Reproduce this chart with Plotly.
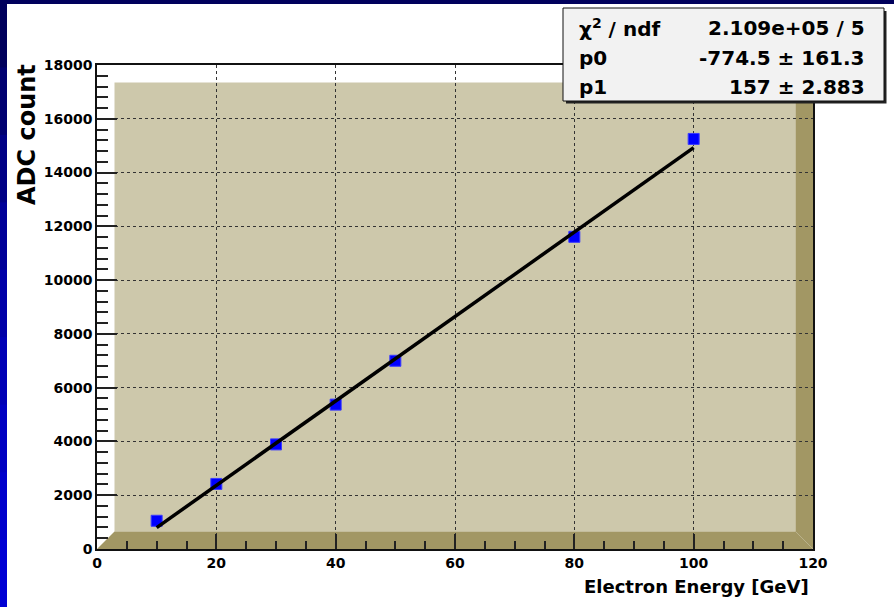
import plotly.graph_objects as go

# Measured calorimeter response vs. beam energy
energy_gev = [10, 20, 30, 40, 50, 80, 100]
adc_count = [1050, 2420, 3890, 5370, 7000, 11610, 15250]

# Linear fit results: ADC = p0 + p1 * E
fit_p0 = -774.5
fit_p0_err = 161.3
fit_p1 = 157.0
fit_p1_err = 2.883
fit_chi2_text = "2.109e+05"
fit_ndf = 5
fit_range = [10, 100]

x_range = [0, 120]
y_range = [0, 18000]

# Canvas geometry (pixels)
W, H = 894, 607
L, R, T, B = 97, 813, 65, 549
PW, PH = R - L, B - T
BORDER = 17.5  # 3D frame bevel width


def px(x):
    return (x - L) / PW


def py(y):
    return (B - y) / PH


FONT = "DejaVu Sans"

fit_x = [fit_range[0], fit_range[1]]
fit_y = [fit_p0 + fit_p1 * e for e in fit_x]

fig = go.Figure()
fig.add_trace(go.Scatter(
    x=energy_gev, y=adc_count, mode="markers",
    marker=dict(symbol="square", size=11, color="#0000ff",
                line=dict(width=1, color="#3a3aff")),
    showlegend=False, hoverinfo="x+y",
))
fig.add_trace(go.Scatter(
    x=fit_x, y=fit_y, mode="lines",
    line=dict(color="black", width=3.5),
    showlegend=False,
))

shapes = []
bx, by = BORDER / PW, BORDER / PH
face = "#cdc8ab"
dark = "#a29764"
# frame front face
shapes.append(dict(type="rect", xref="paper", yref="paper",
                   x0=bx, x1=1 - bx, y0=by, y1=1 - by,
                   fillcolor=face, line=dict(width=0), layer="below"))
# dark bevel: bottom and right sides
shapes.append(dict(type="path", xref="paper", yref="paper",
                   path=f"M 0 0 L 1 0 L {1 - bx} {by} L {bx} {by} Z",
                   fillcolor=dark, line=dict(width=0), layer="below"))
shapes.append(dict(type="path", xref="paper", yref="paper",
                   path=f"M 1 0 L 1 1 L {1 - bx} {1 - by} L {1 - bx} {by} Z",
                   fillcolor=dark, line=dict(width=0), layer="below"))

# slide background strips (left gradient and top band)
strip_cols = ["#00005c", "#000070", "#000085", "#000098", "#0000a8",
              "#0000b6", "#0000c2", "#0000cc", "#0000d4"]
n = len(strip_cols)
for i, c in enumerate(strip_cols):
    shapes.append(dict(type="rect", xref="paper", yref="paper",
                       x0=px(0), x1=px(7),
                       y0=py(H * (i + 1) / n + 1), y1=py(H * i / n),
                       fillcolor=c, line=dict(width=0), layer="above"))
shapes.append(dict(type="rect", xref="paper", yref="paper",
                   x0=px(0), x1=px(W), y0=py(4), y1=py(0),
                   fillcolor="#00005c", line=dict(width=0), layer="above"))

# statistics box with shadow
sx0, sy0, sx1, sy1 = 563, 8, 884, 101
shapes.append(dict(type="rect", xref="paper", yref="paper",
                   x0=px(sx0 + 3), x1=px(sx1 + 2.5), y0=py(sy1 + 2.5), y1=py(sy0 + 3),
                   fillcolor="#222222", line=dict(width=0), layer="above"))
shapes.append(dict(type="rect", xref="paper", yref="paper",
                   x0=px(sx0), x1=px(sx1), y0=py(sy1), y1=py(sy0),
                   fillcolor="#f2f2f2", line=dict(width=1, color="#111111"),
                   layer="above"))

stat_rows = [
    ("χ<sup>2</sup> / ndf", f"{fit_chi2_text} / {fit_ndf}"),
    ("p0", f"{fit_p0:g} ± {fit_p0_err:g}"),
    ("p1", f"{fit_p1:g} ± {fit_p1_err:g}"),
]
row_y = [28, 58, 87]
annotations = []
for (lab, val), yy in zip(stat_rows, row_y):
    annotations.append(dict(text=lab, xref="paper", yref="paper",
                            x=px(577), y=py(yy), xanchor="left", yanchor="middle",
                            showarrow=False,
                            font=dict(family=FONT, size=20, color="black", weight="bold")))
    annotations.append(dict(text=val, xref="paper", yref="paper",
                            x=px(867), y=py(yy), xanchor="right", yanchor="middle",
                            showarrow=False,
                            font=dict(family=FONT, size=20, color="black", weight="bold")))

# axis titles (right/top aligned)
annotations.append(dict(text="Electron Energy [GeV]", xref="paper", yref="paper",
                        x=px(811), y=py(586), xanchor="right", yanchor="middle",
                        showarrow=False,
                        font=dict(family=FONT, size=18, color="black", weight="bold")))
annotations.append(dict(text="ADC count", xref="paper", yref="paper",
                        x=px(27), y=py(135), xanchor="center", yanchor="middle",
                        textangle=-90, showarrow=False,
                        font=dict(family=FONT, size=24, color="black", weight="bold")))

axis_common = dict(
    showline=True, linecolor="#111111", linewidth=1.5, mirror=True,
    ticks="inside", tickcolor="#222222", tickwidth=1.5,
    showgrid=True, gridcolor="#333333", gridwidth=1, griddash="dot",
    zeroline=False, tickformat="d",
    tickfont=dict(family=FONT, size=14, color="black", weight="bold"),
)

fig.update_layout(
    width=W, height=H,
    margin=dict(l=L, r=W - R, t=T, b=H - B, autoexpand=False),
    paper_bgcolor="white", plot_bgcolor="white",
    xaxis=dict(range=x_range, dtick=20, tick0=0, ticklen=15,
               minor=dict(dtick=5, ticks="inside", ticklen=8, tickcolor="#222222",
                          tickwidth=1.5, showgrid=False),
               **axis_common),
    yaxis=dict(range=y_range, dtick=2000, tick0=0, ticklen=20,
               minor=dict(dtick=400, ticks="inside", ticklen=11, tickcolor="#222222",
                          tickwidth=1.5, showgrid=False),
               **axis_common),
    shapes=shapes,
    annotations=annotations,
)

fig.write_html("out.html")
